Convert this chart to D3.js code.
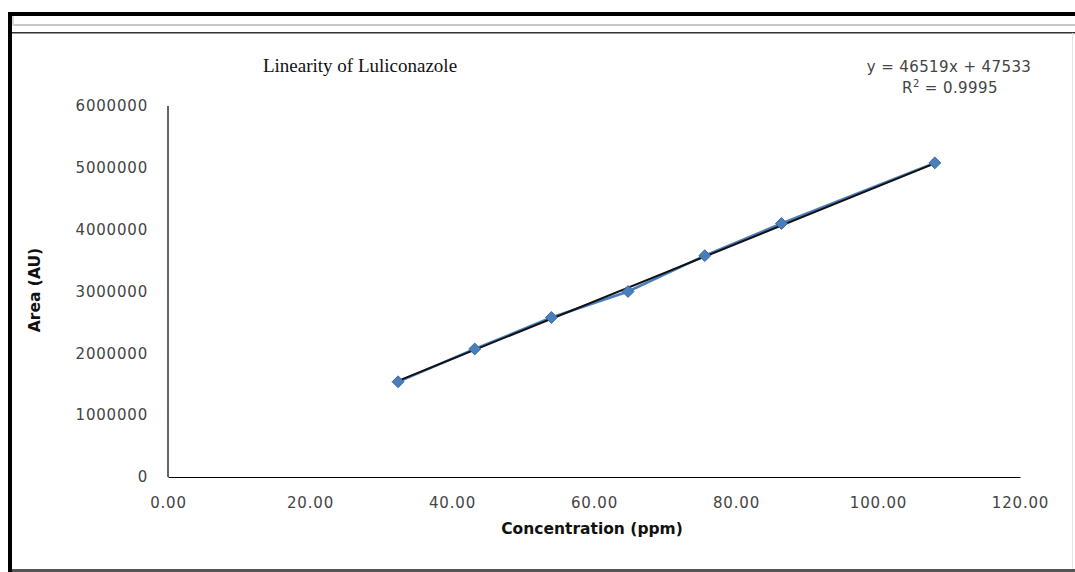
<!DOCTYPE html>
<html>
<head>
<meta charset="utf-8">
<script src="https://cdn.jsdelivr.net/npm/d3@7"></script>
<style>
  body { margin: 0; background: #fff; }
  svg { display: block; }
  .tick-label { font-family: "DejaVu Sans", sans-serif; font-size: 15px; fill: #444; letter-spacing: 0.8px; }
  .axis-title { font-family: "DejaVu Sans", sans-serif; font-size: 15.5px; font-weight: bold; fill: #111; }
</style>
</head>
<body>
<svg></svg>
<script>
var concentration = [32.4, 43.2, 54.0, 64.8, 75.6, 86.4, 108.0];
var area = [1540000, 2070000, 2580000, 3000000, 3580000, 4100000, 5080000];
var slope = 46519, intercept = 47533, rSquared = "0.9995";
var xTicks = [0, 20, 40, 60, 80, 100, 120];
var yTicks = [0, 1000000, 2000000, 3000000, 4000000, 5000000, 6000000];

var svgWidth = 1075, svgHeight = 572;

var svg = d3.select("svg")
    .attr("width", svgWidth)
    .attr("height", svgHeight);

// window frame
svg.append("rect").attr("x", 8).attr("y", 12).attr("width", 1067).attr("height", 4).attr("fill", "#000");
svg.append("rect").attr("x", 8).attr("y", 12).attr("width", 4).attr("height", 560).attr("fill", "#000");
svg.append("rect").attr("x", 12).attr("y", 24).attr("width", 1063).attr("height", 2).attr("fill", "#c8c8c8");
svg.append("rect").attr("x", 12).attr("y", 16).attr("width", 2).attr("height", 10).attr("fill", "#d8d8d8");
svg.append("rect").attr("x", 12).attr("y", 32).attr("width", 1063).attr("height", 1.5).attr("fill", "#333");
svg.append("rect").attr("x", 12).attr("y", 569).attr("width", 1063).attr("height", 3).attr("fill", "#555");
svg.append("rect").attr("x", 1072).attr("y", 33).attr("width", 1).attr("height", 536).attr("fill", "#e4e4e4");

var xScale = d3.scaleLinear().domain([0, 120]).range([168, 1020]);
var yScale = d3.scaleLinear().domain([0, 6000000]).range([477, 106]);

// axes
var xAxis = svg.append("g")
    .attr("transform", "translate(0," + yScale(0) + ")")
    .call(d3.axisBottom(xScale).tickValues(xTicks).tickSize(0).tickPadding(20)
        .tickFormat(function (d) { return d.toFixed(2); }));
xAxis.select(".domain").attr("stroke", "#000").attr("stroke-width", 1.2);
xAxis.selectAll("text").attr("class", "tick-label");

var yAxis = svg.append("g")
    .attr("transform", "translate(" + xScale(0) + ",0)")
    .call(d3.axisLeft(yScale).tickValues(yTicks).tickSize(0).tickPadding(20)
        .tickFormat(function (d) { return String(d); }));
yAxis.select(".domain").attr("stroke", "#000").attr("stroke-width", 1.2)
    .attr("d", "M0," + yScale(6000000) + "V" + yScale(0));
yAxis.selectAll("text").attr("class", "tick-label");

// series line
var line = d3.line()
    .x(function (d, i) { return xScale(concentration[i]); })
    .y(function (d) { return yScale(d); });

svg.append("path")
    .datum(area)
    .attr("d", line)
    .attr("fill", "none")
    .attr("stroke", "#4a7ebb")
    .attr("stroke-width", 2.5);

// linear trendline
var xMin = d3.min(concentration), xMax = d3.max(concentration);
svg.append("line")
    .attr("x1", xScale(xMin))
    .attr("y1", yScale(slope * xMin + intercept))
    .attr("x2", xScale(xMax))
    .attr("y2", yScale(slope * xMax + intercept))
    .attr("stroke", "#111")
    .attr("stroke-width", 2);

// markers
svg.selectAll(".marker")
    .data(area)
    .enter()
    .append("path")
    .attr("class", "marker")
    .attr("d", d3.symbol().type(d3.symbolDiamond2).size(90))
    .attr("transform", function (d, i) {
        return "translate(" + xScale(concentration[i]) + "," + yScale(d) + ")";
    })
    .attr("fill", "#4a7ebb")
    .attr("stroke", "#3a6aa5")
    .attr("stroke-width", 1);

// titles
svg.append("text")
    .attr("x", 360).attr("y", 72)
    .attr("text-anchor", "middle")
    .attr("font-family", "'Liberation Serif', serif")
    .attr("font-size", 19)
    .attr("fill", "#111")
    .text("Linearity of Luliconazole");

svg.append("text")
    .attr("class", "tick-label")
    .attr("x", 949).attr("y", 72)
    .attr("text-anchor", "middle")
    .style("letter-spacing", "0.4px")
    .text("y = " + slope + "x + " + intercept);

var r2 = svg.append("text")
    .attr("class", "tick-label")
    .attr("x", 950).attr("y", 93)
    .attr("text-anchor", "middle")
    .style("letter-spacing", "0.4px");
r2.append("tspan").text("R");
r2.append("tspan").attr("font-size", 10).attr("dy", -6).text("2");
r2.append("tspan").attr("dy", 6).text(" = " + rSquared);

svg.append("text")
    .attr("class", "axis-title")
    .attr("x", 592).attr("y", 534)
    .attr("text-anchor", "middle")
    .text("Concentration (ppm)");

svg.append("text")
    .attr("class", "axis-title")
    .attr("transform", "translate(40,290) rotate(-90)")
    .attr("text-anchor", "middle")
    .text("Area (AU)");
</script>
</body>
</html>
